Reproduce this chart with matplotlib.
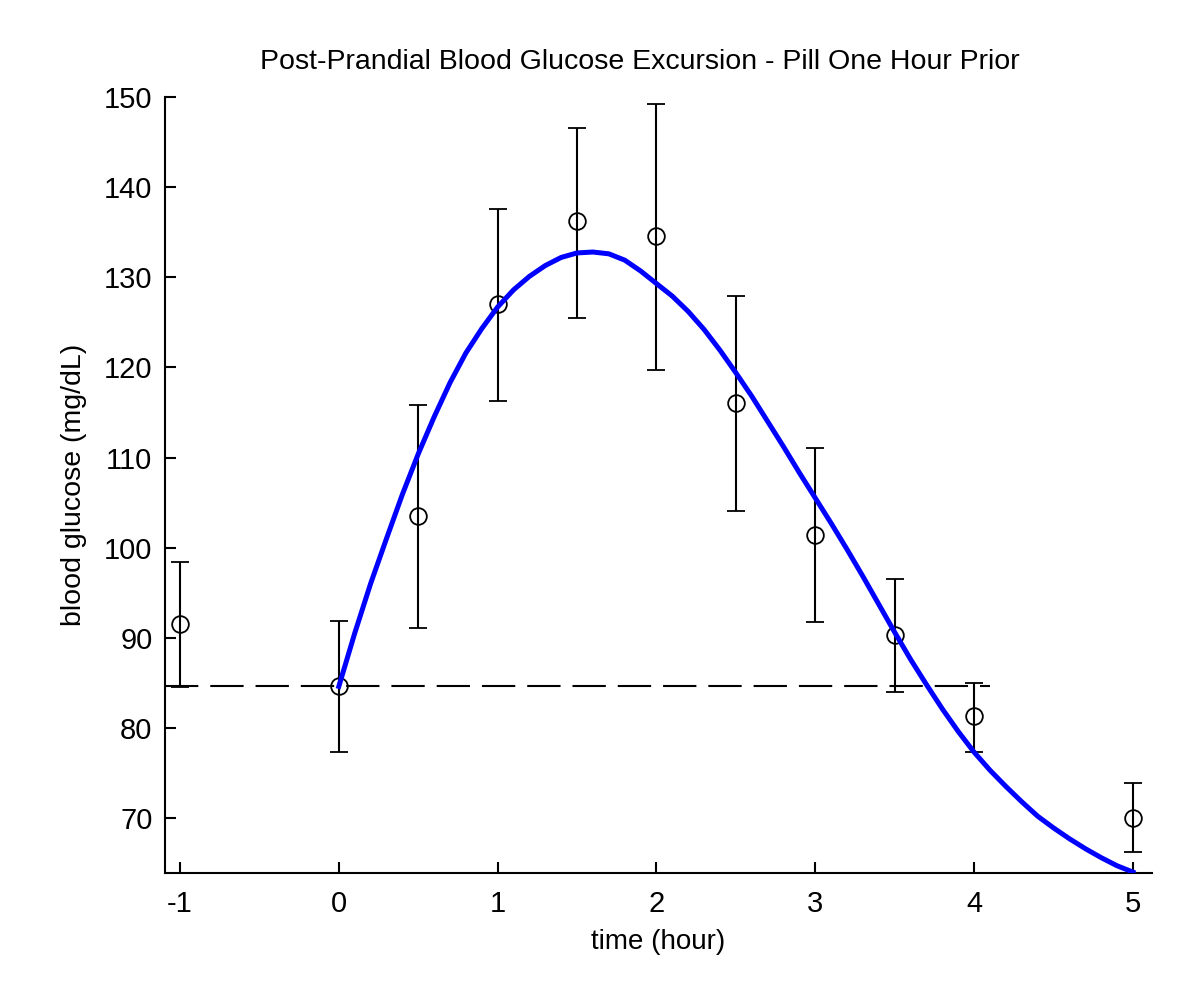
import matplotlib
matplotlib.use("Agg")
import matplotlib.pyplot as plt

plt.rcParams['font.family'] = ['Liberation Sans', 'DejaVu Sans']
plt.rcParams['lines.scale_dashes'] = False
plt.rcParams['axes.unicode_minus'] = False

# measured data (hours, mg/dL)
time_pts = [-1, 0, 0.5, 1, 1.5, 2, 2.5, 3, 3.5, 4, 5]
glucose_mean = [91.5, 84.6, 103.5, 127.0, 136.2, 134.6, 116.0, 101.4, 90.3, 81.3, 70.0]
err_upper = [98.4, 91.9, 115.8, 137.6, 146.6, 149.2, 127.9, 111.0, 96.5, 85.0, 73.9]
err_lower = [84.5, 77.3, 91.1, 116.3, 125.5, 119.7, 104.1, 91.7, 84.0, 77.3, 66.2]

# fitted curve samples
fit_time = [0.0, 0.1, 0.2, 0.3, 0.4, 0.5, 0.6, 0.7, 0.8, 0.9,
            1.0, 1.1, 1.2, 1.3, 1.4, 1.5, 1.6, 1.7, 1.8, 1.9,
            2.0, 2.1, 2.2, 2.3, 2.4, 2.5, 2.6, 2.7, 2.8, 2.9,
            3.0, 3.1, 3.2, 3.3, 3.4, 3.5, 3.6, 3.7, 3.8, 3.9,
            4.0, 4.1, 4.2, 4.3, 4.4, 4.5, 4.6, 4.7, 4.8, 4.9, 5.0]
fit_glucose = [84.6, 90.5, 96.0, 101.0, 105.9, 110.4, 114.5, 118.3, 121.6, 124.3,
               126.7, 128.6, 130.1, 131.3, 132.2, 132.7, 132.8, 132.6, 131.9, 130.7,
               129.3, 127.9, 126.2, 124.2, 121.9, 119.4, 116.8, 114.0, 111.2, 108.3,
               105.5, 102.7, 99.8, 96.8, 93.7, 90.6, 87.6, 84.8, 82.1, 79.6,
               77.3, 75.3, 73.5, 71.8, 70.2, 68.9, 67.7, 66.6, 65.6, 64.7, 64.0]

baseline = 84.6
baseline_end = 4.1

x_ticks = [-1, 0, 1, 2, 3, 4, 5]
y_ticks = [70, 80, 90, 100, 110, 120, 130, 140, 150]
xlim = (-1.0945, 5.12)
ylim = (63.9, 150)

fig = plt.figure(figsize=(12, 9.91), dpi=100)
ax = fig.add_axes([0.1375, 0.1191, 0.8225, 0.7830])

yerr = [[m - l for m, l in zip(glucose_mean, err_lower)],
        [u - m for m, u in zip(glucose_mean, err_upper)]]
ax.errorbar(time_pts, glucose_mean, yerr=yerr, fmt='o', mfc='none', mec='black',
            ms=12, mew=1.3, ecolor='black', elinewidth=1.5, capsize=6.5,
            capthick=1.5, zorder=3)

ax.plot([xlim[0], baseline_end], [baseline, baseline], color='black', lw=1.5,
        dashes=(24, 8.6), zorder=2)

ax.plot(fit_time, fit_glucose, color='#0000ff', lw=3.6, zorder=4,
        solid_joinstyle='round')

ax.set_xlim(*xlim)
ax.set_ylim(*ylim)
ax.set_xticks(x_ticks)
ax.set_yticks(y_ticks)
ax.spines['top'].set_visible(False)
ax.spines['right'].set_visible(False)
for s in ('left', 'bottom'):
    ax.spines[s].set_linewidth(1.5)
ax.tick_params(direction='in', length=8, width=1.5, labelsize=21, pad=9)
ax.tick_params(axis='x', pad=12)

ax.set_title('Post-Prandial Blood Glucose Excursion - Pill One Hour Prior',
             fontsize=20.5, pad=20, x=0.481)
ax.set_xlabel('time (hour)', fontsize=20, labelpad=8)
ax.set_ylabel('blood glucose (mg/dL)', fontsize=20.5, labelpad=12)

fig.savefig('out.png', dpi=100, facecolor='white')
